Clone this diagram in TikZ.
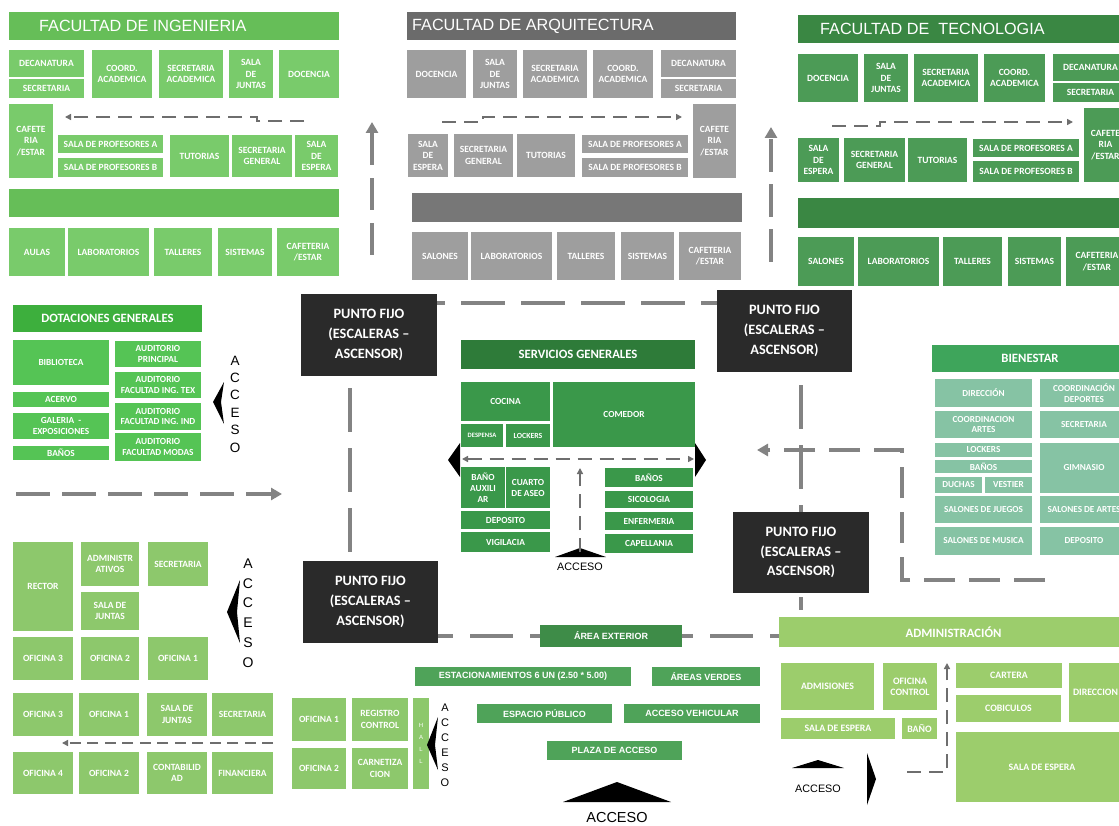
\documentclass[tikz,border=0pt]{standalone}
\usepackage{fontspec}
\newfontfamily\calf{Carlito}
\newfontfamily\libf{Liberation Sans}
\usetikzlibrary{arrows.meta,calc}
\definecolor{ingT}{HTML}{66BE58}
\definecolor{ingR}{HTML}{79CB6B}
\definecolor{arqT}{HTML}{6B6B6B}
\definecolor{arqR}{HTML}{9E9E9E}
\definecolor{arqB}{HTML}{777777}
\definecolor{tecT}{HTML}{3A8743}
\definecolor{tecR}{HTML}{4C9B56}
\definecolor{dotT}{HTML}{3DAF3D}
\definecolor{dotR}{HTML}{55C455}
\definecolor{srvT}{HTML}{2E7B39}
\definecolor{srvR}{HTML}{3A984A}
\definecolor{bnT}{HTML}{3EA55B}
\definecolor{bnR}{HTML}{86C3A4}
\definecolor{adL}{HTML}{8DC86C}
\definecolor{amR}{HTML}{9CCD6C}
\definecolor{exT}{HTML}{3E8C48}
\definecolor{exR}{HTML}{4FA359}
\definecolor{pfC}{HTML}{2A2A2A}
\definecolor{gline}{HTML}{838383}
\definecolor{tline}{HTML}{6E6E6E}
\newcommand\bx[7]{\node[#6, anchor=north west, minimum width={(#4-#2)*1pt}, minimum height={(#5-#3)*1pt}] (#1) at (#2,#3) {#7};}
\tikzset{
  base/.style={inner sep=0pt, outer sep=0pt, align=center, text=white, font=\calf\bfseries\fontsize{9.5}{11.5}\selectfont},
  grouptitle/.style={font=\calf\bfseries\fontsize{12.7}{14}\selectfont},
  ingr/.style={base, fill=ingR}, ingt/.style={base, fill=ingT},
  arqr/.style={base, fill=arqR}, arqt/.style={base, fill=arqT}, arqb/.style={base, fill=arqB},
  tecr/.style={base, fill=tecR}, tect/.style={base, fill=tecT},
  dotr/.style={base, fill=dotR, font=\calf\bfseries\fontsize{9.3}{10.5}\selectfont}, dott/.style={base, fill=dotT, grouptitle},
  srvr/.style={base, fill=srvR, font=\calf\bfseries\fontsize{9.3}{11}\selectfont}, srvt/.style={base, fill=srvT, grouptitle},
  bnr/.style={base, fill=bnR, font=\calf\bfseries\fontsize{9.2}{10.5}\selectfont}, bnt/.style={base, fill=bnT, grouptitle},
  adl/.style={base, fill=adL},
  amr/.style={base, fill=amR, font=\calf\bfseries\fontsize{9.8}{11}\selectfont},
  amt/.style={base, fill=amR, grouptitle},
  exr/.style={base, fill=exR, font=\libf\bfseries\fontsize{9}{10}\selectfont},
  ext/.style={base, fill=exT, font=\libf\bfseries\fontsize{9}{10}\selectfont},
  pfbox/.style={base, fill=pfC, font=\calf\bfseries\fontsize{14.3}{19.7}\selectfont},
  ttext/.style={inner sep=0pt, text=white, font=\libf\fontsize{16.2}{18}\selectfont},
  thick dash/.style={draw=gline, line width=4pt},
  thin dash/.style={draw=tline, line width=1.5pt, dash pattern=on 14pt off 8pt},
  big tip/.style={-{Triangle[length=11pt,width=12pt]}},
  small tip/.style={-{Triangle[length=6pt,width=6pt]}},
  acc/.style={inner sep=0pt, text=black, font=\libf\fontsize{10.8}{12}\selectfont},
  vacc/.style={inner sep=0pt, align=center, text=black}
}
\begin{document}
\begin{tikzpicture}[x=1pt,y=-1pt]
\useasboundingbox (0,0) rectangle (1119,826);
\clip (0,0) rectangle (1119,826);
\fill[white] (0,0) rectangle (1119,826);
% ===== FACULTAD DE INGENIERIA =====
\bx{ingT}{9}{12}{339}{40}{ingt}{}
\node[ttext, anchor=west] (ingTt) at ($(ingT.west)+(30,0)$) {FACULTAD DE INGENIERIA};
\bx{ing1}{9}{50}{84}{77}{ingr}{DECANATURA}
\bx{ing2}{9}{79}{84}{98}{ingr}{SECRETARIA}
\bx{ing3}{92}{50}{152}{98}{ingr}{COORD.\\ACADEMICA}
\bx{ing4}{159}{50}{223}{98}{ingr}{SECRETARIA\\ACADEMICA}
\bx{ing5}{229}{50}{273}{98}{ingr}{SALA\\DE\\JUNTAS}
\bx{ing6}{279}{50}{339}{98}{ingr}{DOCENCIA}
\bx{ing7}{9}{104}{53}{178}{ingr}{CAFETE\\RIA\\/ESTAR}
\bx{ing8}{58}{135}{163}{153}{ingr}{SALA DE PROFESORES A}
\bx{ing9}{58}{158}{163}{177}{ingr}{SALA DE PROFESORES B}
\bx{ing10}{170}{135}{229}{177}{ingr}{TUTORIAS}
\bx{ing11}{232}{135}{292}{177}{ingr}{SECRETARIA\\GENERAL}
\bx{ing12}{295}{135}{338}{177}{ingr}{SALA\\DE\\ESPERA}
\bx{ingB}{9}{189}{339}{217}{ingt}{}
\bx{ing13}{9}{228}{65}{276}{ingr}{AULAS}
\bx{ing14}{68}{228}{149}{276}{ingr}{LABORATORIOS}
\bx{ing15}{154}{228}{212}{276}{ingr}{TALLERES}
\bx{ing16}{218}{228}{272}{276}{ingr}{SISTEMAS}
\bx{ing17}{277}{228}{339}{276}{ingr}{CAFETERIA\\/ESTAR}
% ===== FACULTAD DE ARQUITECTURA =====
\bx{arqT}{407}{12}{736}{40}{arqt}{}
\node[ttext, anchor=west] (arqTt) at ($(arqT.west)+(5,0)$) {FACULTAD DE ARQUITECTURA};
\bx{arq1}{407}{50}{466}{98}{arqr}{DOCENCIA}
\bx{arq2}{473}{50}{517}{98}{arqr}{SALA\\DE\\JUNTAS}
\bx{arq3}{523}{50}{587}{98}{arqr}{SECRETARIA\\ACADEMICA}
\bx{arq4}{593}{50}{653}{98}{arqr}{COORD.\\ACADEMICA}
\bx{arq5}{661}{50}{736}{77}{arqr}{DECANATURA}
\bx{arq6}{661}{79}{736}{98}{arqr}{SECRETARIA}
\bx{arq7}{693}{104}{736}{178}{arqr}{CAFETE\\RIA\\/ESTAR}
\bx{arq8}{408}{134}{448}{177}{arqr}{SALA\\DE\\ESPERA}
\bx{arq9}{454}{134}{513}{177}{arqr}{SECRETARIA\\GENERAL}
\bx{arq10}{517}{134}{575}{177}{arqr}{TUTORIAS}
\bx{arq11}{582}{135}{688}{153}{arqr}{SALA DE PROFESORES A}
\bx{arq12}{582}{158}{688}{177}{arqr}{SALA DE PROFESORES B}
\bx{arqB}{412}{193}{742}{222}{arqb}{}
\bx{arq13}{412}{232}{468}{280}{arqr}{SALONES}
\bx{arq14}{471}{232}{552}{280}{arqr}{LABORATORIOS}
\bx{arq15}{557}{232}{615}{280}{arqr}{TALLERES}
\bx{arq16}{621}{232}{674}{280}{arqr}{SISTEMAS}
\bx{arq17}{679}{232}{741}{280}{arqr}{CAFETERIA\\/ESTAR}
% ===== FACULTAD DE TECNOLOGIA =====
\bx{tecT}{798}{15}{1128}{43}{tect}{}
\node[ttext, anchor=west] (tecTt) at ($(tecT.west)+(22,0)$) {FACULTAD DE\ \ TECNOLOGIA};
\bx{tec1}{798}{54}{858}{102}{tecr}{DOCENCIA}
\bx{tec2}{864}{54}{908}{102}{tecr}{SALA\\DE\\JUNTAS}
\bx{tec3}{914}{54}{978}{102}{tecr}{SECRETARIA\\ACADEMICA}
\bx{tec4}{984}{54}{1045}{102}{tecr}{COORD.\\ACADEMICA}
\bx{tec5}{1053}{54}{1128}{81}{tecr}{DECANATURA}
\bx{tec6}{1053}{83}{1128}{102}{tecr}{SECRETARIA}
\bx{tec7}{1084}{108}{1127}{182}{tecr}{CAFETE\\RIA\\/ESTAR}
\bx{tec8}{798}{138}{839}{182}{tecr}{SALA\\DE\\ESPERA}
\bx{tec9}{844}{138}{905}{182}{tecr}{SECRETARIA\\GENERAL}
\bx{tec10}{908}{138}{967}{182}{tecr}{TUTORIAS}
\bx{tec11}{973}{139}{1079}{157}{tecr}{SALA DE PROFESORES A}
\bx{tec12}{973}{161}{1079}{182}{tecr}{SALA DE PROFESORES B}
\bx{tecB}{798}{198}{1128}{228}{tect}{}
\bx{tec13}{798}{237}{854}{286}{tecr}{SALONES}
\bx{tec14}{858}{237}{939}{286}{tecr}{LABORATORIOS}
\bx{tec15}{943}{237}{1002}{286}{tecr}{TALLERES}
\bx{tec16}{1008}{237}{1061}{286}{tecr}{SISTEMAS}
\bx{tec17}{1066}{237}{1128}{286}{tecr}{CAFETERIA\\/ESTAR}
% ===== DOTACIONES GENERALES =====
\bx{dotT}{13}{305}{202}{332}{dott}{DOTACIONES GENERALES}
\bx{dot1}{13}{340}{109}{385}{dotr}{BIBLIOTECA}
\bx{dot2}{13}{392}{109}{407}{dotr}{ACERVO}
\bx{dot3}{13}{413}{109}{439}{dotr}{GALERIA\ \ -\\EXPOSICIONES}
\bx{dot4}{13}{446}{109}{460}{dotr}{BAÑOS}
\bx{dot5}{115}{341}{201}{367}{dotr}{AUDITORIO\\PRINCIPAL}
\bx{dot6}{115}{372}{201}{398}{dotr}{AUDITORIO\\FACULTAD ING. TEX}
\bx{dot7}{115}{403}{201}{430}{dotr}{AUDITORIO\\FACULTAD ING. IND}
\bx{dot8}{115}{433}{201}{461}{dotr}{AUDITORIO\\FACULTAD MODAS}
% ===== PUNTOS FIJOS =====
\bx{pftl}{301}{294}{437}{376}{pfbox}{PUNTO FIJO\\(ESCALERAS –\\ASCENSOR)}
\bx{pftr}{717}{290}{852}{372}{pfbox}{PUNTO FIJO\\(ESCALERAS –\\ASCENSOR)}
\bx{pfbl}{303}{561}{438}{643}{pfbox}{PUNTO FIJO\\(ESCALERAS –\\ASCENSOR)}
\bx{pfbr}{733}{512}{869}{593}{pfbox}{PUNTO FIJO\\(ESCALERAS –\\ASCENSOR)}
% ===== SERVICIOS GENERALES =====
\bx{srvT}{461}{340}{695}{369}{srvt}{SERVICIOS GENERALES}
\bx{srv1}{461}{382}{550}{421}{srvr}{COCINA}
\bx{srv2}{461}{424}{503}{447}{srvr, font=\calf\bfseries\fontsize{6.6}{7}\selectfont}{DESPENSA}
\bx{srv3}{506}{424}{550}{447}{srvr, font=\calf\bfseries\fontsize{7.8}{8}\selectfont}{LOCKERS}
\bx{srv4}{553}{382}{695}{447}{srvr}{COMEDOR}
\bx{srv5}{461}{467}{505}{508}{srvr}{BAÑO\\AUXILI\\AR}
\bx{srv6}{506}{467}{550}{508}{srvr}{CUARTO\\DE ASEO}
\bx{srv7}{461}{511}{550}{529}{srvr}{DEPOSITO}
\bx{srv8}{461}{532}{550}{552}{srvr}{VIGILACIA}
\bx{srv9}{605}{468}{693}{487}{srvr}{BAÑOS}
\bx{srv10}{605}{491}{693}{508}{srvr}{SICOLOGIA}
\bx{srv11}{605}{512}{693}{530}{srvr}{ENFERMERIA}
\bx{srv12}{605}{534}{693}{553}{srvr}{CAPELLANIA}
% ===== BIENESTAR =====
\bx{bnT}{932}{345}{1128}{372}{bnt}{BIENESTAR}
\bx{bn1}{935}{379}{1032}{407}{bnr}{DIRECCIÓN}
\bx{bn2}{1040}{379}{1128}{407}{bnr}{COORDINACIÓN\\DEPORTES}
\bx{bn3}{935}{411}{1032}{438}{bnr}{COORDINACION\\ARTES}
\bx{bn4}{1040}{411}{1128}{438}{bnr}{SECRETARIA}
\bx{bn5}{935}{443}{1032}{457}{bnr}{LOCKERS}
\bx{bn6}{935}{460}{1032}{473}{bnr}{BAÑOS}
\bx{bn7}{935}{477}{982}{493}{bnr}{DUCHAS}
\bx{bn8}{985}{477}{1032}{493}{bnr}{VESTIER}
\bx{bn9}{1040}{443}{1128}{493}{bnr}{GIMNASIO}
\bx{bn10}{935}{496}{1032}{523}{bnr}{SALONES DE JUEGOS}
\bx{bn11}{1040}{496}{1128}{523}{bnr}{SALONES DE ARTES}
\bx{bn12}{935}{527}{1032}{555}{bnr}{SALONES DE MUSICA}
\bx{bn13}{1040}{527}{1128}{555}{bnr}{DEPOSITO}
% ===== RECTORIA (left bottom) =====
\bx{ad1}{13}{542}{73}{631}{adl}{RECTOR}
\bx{ad2}{81}{542}{139}{586}{adl}{ADMINISTR\\ATIVOS}
\bx{ad3}{148}{542}{208}{586}{adl}{SECRETARIA}
\bx{ad4}{81}{592}{139}{630}{adl}{SALA DE\\JUNTAS}
\bx{ad5}{13}{637}{73}{680}{adl}{OFICINA 3}
\bx{ad6}{81}{637}{139}{680}{adl}{OFICINA 2}
\bx{ad7}{148}{637}{208}{680}{adl}{OFICINA 1}
\bx{ad8}{13}{693}{73}{736}{adl}{OFICINA 3}
\bx{ad9}{79}{693}{139}{736}{adl}{OFICINA 1}
\bx{ad10}{147}{693}{207}{736}{adl}{SALA DE\\JUNTAS}
\bx{ad11}{212}{693}{273}{736}{adl}{SECRETARIA}
\bx{ad12}{13}{752}{73}{794}{adl}{OFICINA 4}
\bx{ad13}{79}{752}{139}{794}{adl}{OFICINA 2}
\bx{ad14}{147}{752}{207}{794}{adl}{CONTABILID\\AD}
\bx{ad15}{212}{752}{273}{794}{adl}{FINANCIERA}
% ===== REGISTRO =====
\bx{rg1}{292}{698}{346}{741}{adl}{OFICINA 1}
\bx{rg2}{352}{698}{408}{741}{adl}{REGISTRO\\CONTROL}
\bx{rg3}{292}{748}{346}{789}{adl}{OFICINA 2}
\bx{rg4}{352}{748}{408}{789}{adl}{CARNETIZA\\CION}
\bx{hall}{413}{698}{429}{789}{adl, font=\libf\fontsize{6}{12}\selectfont}{H\\A\\L\\L}
% ===== AREA EXTERIOR =====
\bx{ext}{540}{625}{682}{647}{ext}{ÁREA EXTERIOR}
\bx{ex1}{415}{667}{631}{686}{exr}{ESTACIONAMIENTOS 6 UN (2.50 * 5.00)}
\bx{ex2}{652}{667}{760}{686}{exr}{ÁREAS VERDES}
\bx{ex3}{477}{704}{612}{723}{exr}{ESPACIO PÚBLICO}
\bx{ex4}{624}{704}{760}{723}{exr}{ACCESO VEHICULAR}
\bx{ex5}{547}{741}{682}{760}{exr}{PLAZA DE ACCESO}
% ===== ADMINISTRACION =====
\bx{amT}{779}{617}{1128}{647}{amt}{ADMINISTRACIÓN}
\bx{am1}{781}{663}{874}{710}{amr}{ADMISIONES}
\bx{am2}{883}{663}{937}{710}{amr}{OFICINA\\CONTROL}
\bx{am3}{781}{718}{895}{739}{amr}{SALA DE ESPERA}
\bx{am4}{902}{718}{937}{739}{amr}{BAÑO}
\bx{am5}{956}{663}{1062}{688}{amr}{CARTERA}
\bx{am6}{956}{695}{1061}{722}{amr}{COBICULOS}
\bx{am7}{1069}{663}{1122}{722}{amr}{DIRECCION}
\bx{am8}{956}{732}{1128}{802}{amr}{SALA DE ESPERA}
% ===== ACCESO labels =====
\node[vacc, font=\libf\fontsize{13.5}{17.4}\selectfont] (accD) at (235,404) {A\\C\\C\\E\\S\\O};
\node[vacc, font=\libf\fontsize{14}{19.8}\selectfont] (accR) at (248,613) {A\\C\\C\\E\\S\\O};
\node[vacc, font=\libf\fontsize{11}{15}\selectfont] (accH) at (445,745) {A\\C\\C\\E\\S\\O};
\node[acc] (accS) at (580,567) {ACCESO};
\node[acc, font=\libf\fontsize{14.5}{16}\selectfont] (accB) at (617,818) {ACCESO};
\node[acc] (accA) at (818,789) {ACCESO};
% ===== black arrowheads =====
\fill[black] (224,382) -- (213,402) -- (224,424) -- (221,402) -- cycle;
\fill[black] (240,580) -- (227,612) -- (240,643) -- (237,612) -- cycle;
\fill[black] (438,717) -- (427,745) -- (438,770) -- (435,745) -- cycle;
\fill[black] (460,443) -- (448,460) -- (460,477) -- cycle;
\fill[black] (695,443) -- (706,460) -- (695,477) -- cycle;
\fill[black] (555,557) -- (580,548) -- (606,557) -- cycle;
\fill[black] (563,802) -- (617,782) -- (671,802) -- cycle;
\fill[black] (792,768) -- (818,760) -- (844,768) -- cycle;
\fill[black] (867,753) -- (876,779) -- (867,805) -- cycle;
% ===== thin dashed arrows =====
\coordinate (ia1) at (304,121); \coordinate (ia2) at (257,121); \coordinate (ia3) at (257,117); \coordinate (ia4) at (65,117);
\draw[thin dash, small tip] (ia1) -- (ia2) -- (ia3) -- (ia4);
\coordinate (aa1) at (442,122); \coordinate (aa2) at (483,122); \coordinate (aa3) at (483,117); \coordinate (aa4) at (682,117);
\draw[thin dash, small tip] (aa1) -- (aa2) -- (aa3) -- (aa4);
\coordinate (ta1) at (832,126); \coordinate (ta2) at (880,126); \coordinate (ta3) at (880,122); \coordinate (ta4) at (1073,122);
\draw[thin dash, small tip] (ta1) -- (ta2) -- (ta3) -- (ta4);
\coordinate (sa1) at (462,459); \coordinate (sa2) at (694,459);
\draw[thin dash, {Triangle[length=6pt,width=6pt]}-{Triangle[length=6pt,width=6pt]}] (sa1) -- (sa2);
\draw[thin dash, small tip] (srv8.south -| accS) -- (srv9.north -| accS);
\coordinate (ma1) at (907,772); \coordinate (ma2) at (947,772);
\draw[thin dash, small tip] (ma1) -- (ma2) -- (am2.north east -| ma2);
\draw[thin dash, small tip, dash pattern=on 11pt off 6.5pt] (ad11.south east) ++(0,7) coordinate (ra1) -- (ra1 -| 62,0) coordinate (ra2);
% ===== thick dashed connectors =====
\coordinate (u1a) at (372,255); \coordinate (u1b) at (372,122);
\draw[thick dash, big tip, dash pattern=on 32pt off 13pt] (u1a) -- (u1b);
\coordinate (u2a) at (771,262); \coordinate (u2b) at (771,127);
\draw[thick dash, big tip, dash pattern=on 33pt off 12pt] (u2a) -- (u2b);
\coordinate (da1) at (16,494); \coordinate (da2) at (282,494);
\draw[thick dash, big tip, dash pattern=on 34pt off 12pt] (da1) -- (da2);
\draw[thick dash, dash pattern=on 44pt off 16pt, dash phase=36pt] ($(pftl.north east)+(0,9)$) -- ($(pftr.north west)+(0,13)$);
\draw[thick dash, dash pattern=on 44pt off 16pt, dash phase=48pt] ($(pftl.south west)+(49,0)$) -- ($(pfbl.north west)+(47,0)$);
\draw[thick dash, dash pattern=on 44pt off 16pt, dash phase=47pt] (pftr.south -| pfbr.north) -- (pfbr.north);
\draw[thick dash, dash pattern=on 0pt off 4pt on 13pt off 20pt] (pfbr.south) -- (amT.north -| pfbr.south);
\draw[thick dash, dash pattern=on 43pt off 17pt, dash phase=28pt] (pfbl.east |- ext.west) -- (ext.west);
\draw[thick dash, dash pattern=on 43pt off 17pt, dash phase=32pt] (ext.east) -- (amT.west |- ext.east);
\coordinate (b1) at (1045,580); \coordinate (b2) at (902,580); \coordinate (b3) at (902,450); \coordinate (b4) at (757,450);
\draw[thick dash, big tip, dash pattern=on 31pt off 14pt] (b1) -- (b2) -- (b3) -- (b4);
\end{tikzpicture}
\end{document}
